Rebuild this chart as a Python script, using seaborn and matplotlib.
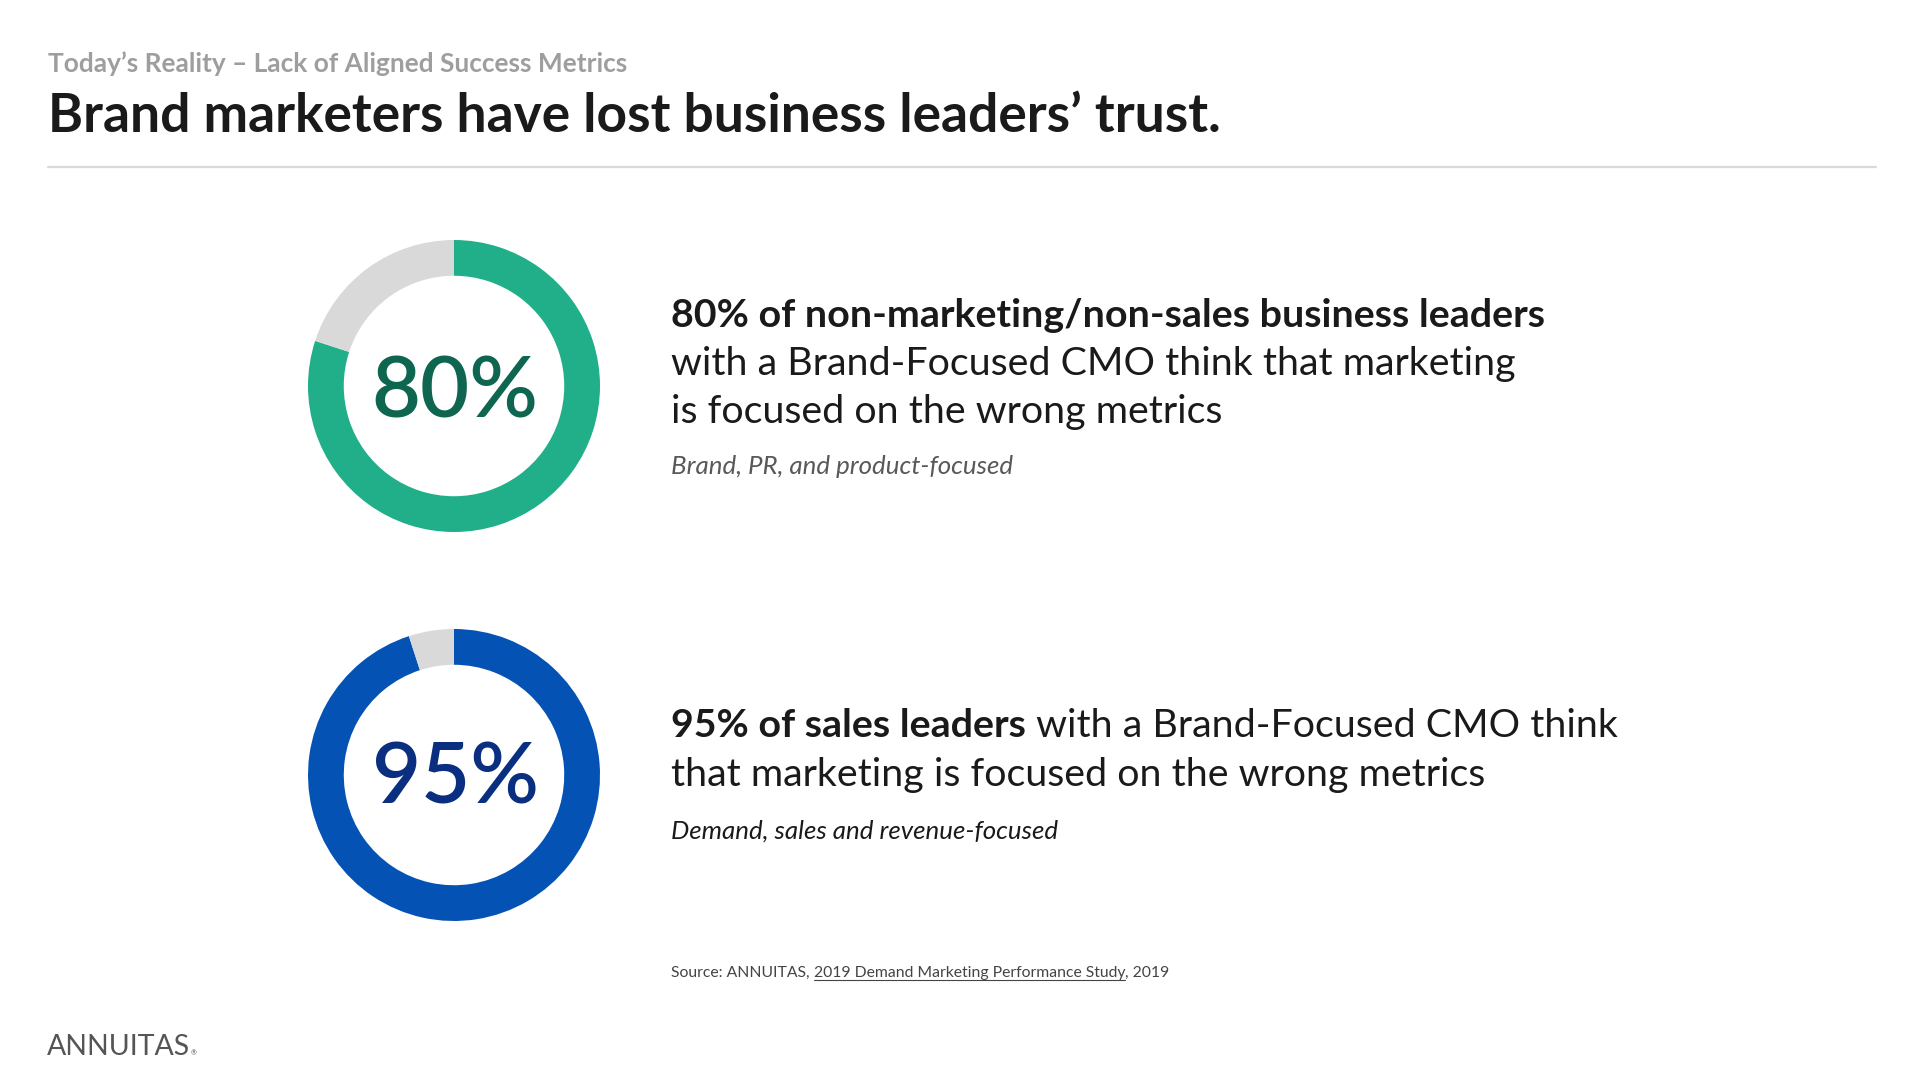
import matplotlib
matplotlib.use("Agg")
import matplotlib.pyplot as plt
import seaborn as sns

# data
stat_labels = ["80%", "95%"]
stat_values = [80, 95]
rest_values = [20, 5]
ring_colors = ["#21AF8A", "#0552B5"]
label_colors = ["#0E6650", "#0B2F80"]
rest_color = "#D9D9D9"

subtitle = "Today\u2019s Reality \u2013 Lack of Aligned Success Metrics"
title = "Brand marketers have lost business leaders\u2019 trust."
block1 = ["80% of non-marketing/non-sales business leaders",
          "with a Brand-Focused CMO think that marketing",
          "is focused on the wrong metrics"]
note1 = "Brand, PR, and product-focused"
block2_bold = "95% of sales leaders"
block2_rest = " with a Brand-Focused CMO think"
block2_line2 = "that marketing is focused on the wrong metrics"
note2 = "Demand, sales and revenue-focused"
source_parts = ["Source: ANNUITAS, ", "2019 Demand Marketing Performance Study", ", 2019"]

sns.set_theme(style="white")
plt.rcParams['font.family'] = ['Lato', 'DejaVu Sans']

W, H = 1920, 1080
fig = plt.figure(figsize=(19.2, 10.8), dpi=100)
fig.patch.set_facecolor("white")


def fx(x):
    return x / W


def fy(y):
    return 1 - y / H


# header
fig.text(fx(48), fy(72), subtitle, fontsize=18.9, fontweight="bold", color="#9E9E9E", va="baseline")
fig.text(fx(48), fy(132), title, fontsize=38.4, fontweight="bold", color="#1A1A1A", va="baseline")
fig.add_artist(plt.Line2D([fx(48), fx(1876)], [fy(167), fy(167)], color="#D9D9D9", lw=1.6))

# donuts
centers = [(454, 386), (454, 775)]
r = 146
for i, (cx, cy) in enumerate(centers):
    ax = fig.add_axes([fx(cx - r), fy(cy + r), 2 * r / W, 2 * r / H])
    ax.pie([stat_values[i], rest_values[i]], colors=[ring_colors[i], rest_color],
           startangle=90, counterclock=False, radius=1,
           wedgeprops=dict(width=0.245, linewidth=0))
    ax.set_xlim(-1, 1)
    ax.set_ylim(-1, 1)
    ax.axis("off")
    base = [417, 804][i]
    fig.text(fx(cx + 1), fy(base), stat_labels[i], fontsize=61, color=label_colors[i],
             ha="center", va="baseline", fontweight="semibold")

# text block 1
tx = 671
fs = 28.4
fig.text(fx(tx), fy(327), block1[0], fontsize=fs, fontweight="bold", color="#1A1A1A", va="baseline")
fig.text(fx(tx), fy(375), block1[1], fontsize=fs, color="#1A1A1A", va="baseline")
fig.text(fx(tx), fy(423), block1[2], fontsize=fs, color="#1A1A1A", va="baseline")
fig.text(fx(tx), fy(474), note1, fontsize=18.6, style="italic", color="#595959", va="baseline")

# text block 2
t_bold = fig.text(fx(tx), fy(737), block2_bold, fontsize=fs, fontweight="bold", color="#1A1A1A", va="baseline")
fig.canvas.draw()
renderer = fig.canvas.get_renderer()
bb = t_bold.get_window_extent(renderer=renderer)
fig.text(bb.x1 / W, fy(737), block2_rest, fontsize=fs, color="#1A1A1A", va="baseline")
fig.text(fx(tx), fy(786), block2_line2, fontsize=fs, color="#1A1A1A", va="baseline")
fig.text(fx(tx), fy(839), note2, fontsize=18.6, style="italic", color="#1A1A1A", va="baseline")

# source line with underlined study name
x = tx
for j, part in enumerate(source_parts):
    t = fig.text(fx(x), fy(977), part, fontsize=11.3, color="#444444", va="baseline")
    ext = t.get_window_extent(renderer=renderer)
    if j == 1:
        fig.add_artist(plt.Line2D([fx(x), ext.x1 / W], [fy(980), fy(980)], color="#444444", lw=0.8))
    x = ext.x1

# logo
logo = fig.text(fx(47), fy(1055), "ANNUITAS", fontsize=20.5, fontweight="normal", color="#555555", va="baseline")
lb = logo.get_window_extent(renderer=renderer)
fig.text(lb.x1 / W + 0.0005, fy(1055), "\u00ae", fontsize=5, color="#555555", va="baseline")

fig.savefig("out.png", dpi=100, facecolor="white")
